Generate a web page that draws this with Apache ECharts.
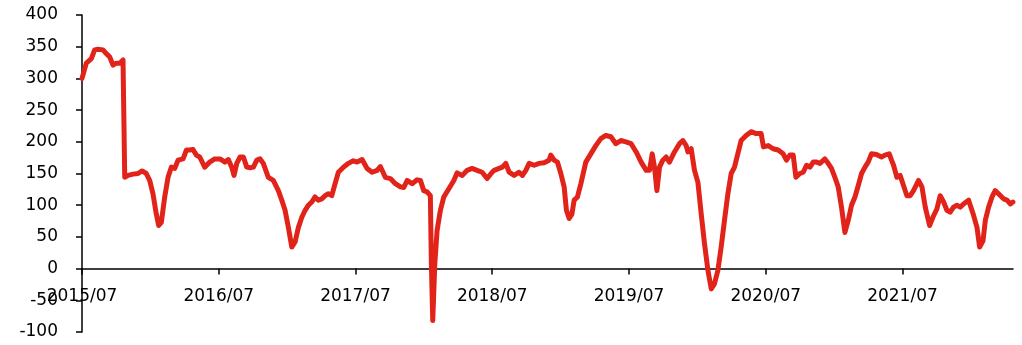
<!DOCTYPE html>
<html>
<head>
<meta charset="utf-8">
<script src="https://cdn.jsdelivr.net/npm/echarts@6/dist/echarts.min.js"></script>
<style>
  html, body { margin: 0; padding: 0; background: #fff; }
  #chart { width: 1022px; height: 345px; }
</style>
</head>
<body>
<div id="chart"></div>
<script>
// Months elapsed since 2015/07 for each observation
const months = [
  0.00, 0.38, 0.82, 1.11, 1.40, 1.84, 2.13, 2.43, 2.72, 3.01, 3.31, 3.60, 3.75, 4.04, 4.48, 4.92,
  5.27, 5.64, 5.94, 6.23, 6.52, 6.73, 6.96, 7.26, 7.55, 7.84, 8.14, 8.43, 8.87, 9.16, 9.45, 9.74,
  10.03, 10.33, 10.77, 11.21, 11.65, 12.11, 12.55, 12.84, 13.14, 13.34, 13.58, 13.87, 14.16, 14.46,
  14.75, 15.04, 15.34, 15.63, 15.91, 16.35, 16.79, 17.23, 17.53, 17.82, 18.11, 18.41, 18.70, 18.99,
  19.29, 19.58, 19.87, 20.16, 20.45, 20.74, 21.04, 21.33, 21.62, 21.92, 22.21, 22.50, 22.94, 23.38,
  23.81, 24.14, 24.58, 25.02, 25.46, 25.90, 26.18, 26.62, 27.06, 27.50, 27.94, 28.24, 28.53, 28.97,
  29.41, 29.70, 29.99, 30.28, 30.57, 30.66, 30.78, 30.96, 31.16, 31.45, 31.75, 32.19, 32.63, 32.92,
  33.36, 33.80, 34.23, 34.67, 35.11, 35.55, 35.99, 36.17, 36.60, 36.89, 37.19, 37.48, 37.92, 38.36,
  38.65, 38.95, 39.24, 39.68, 40.12, 40.55, 40.99, 41.14, 41.43, 41.72, 42.02, 42.31, 42.51, 42.75,
  42.99, 43.19, 43.48, 43.78, 44.21, 44.65, 45.09, 45.53, 45.97, 46.41, 46.85, 47.29, 47.73, 48.19,
  48.63, 49.07, 49.51, 49.80, 50.04, 50.24, 50.45, 50.68, 50.97, 51.26, 51.55, 51.99, 52.43, 52.73,
  53.02, 53.17, 53.46, 53.75, 54.05, 54.34, 54.63, 54.93, 55.22, 55.50, 55.80, 56.09, 56.38, 56.68,
  56.97, 57.26, 57.55, 57.84, 58.28, 58.72, 59.16, 59.60, 59.80, 60.22, 60.65, 61.09, 61.53, 61.82,
  62.12, 62.41, 62.65, 63.00, 63.29, 63.58, 63.88, 64.17, 64.46, 64.76, 65.19, 65.48, 65.77, 66.07,
  66.36, 66.65, 66.95, 67.24, 67.53, 67.83, 68.12, 68.41, 68.71, 68.99, 69.28, 69.72, 70.16, 70.46,
  70.84, 71.04, 71.22, 71.51, 71.80, 72.09, 72.39, 72.68, 72.97, 73.41, 73.71, 74.00, 74.38, 74.67,
  75.02, 75.31, 75.61, 75.90, 76.19, 76.48, 76.78, 77.07, 77.36, 77.80, 77.95, 78.24, 78.54, 78.77,
  79.07, 79.27, 79.56, 79.86, 80.14, 80.43, 80.87, 81.17, 81.46, 81.69
];

// Index level at each observation
const values = [
  300, 324, 331, 345, 346, 345, 339, 334, 321, 324, 324, 329, 144, 147, 149, 150,
  154, 150, 139, 118, 86, 68, 73, 113, 144, 160, 158, 171, 173, 187, 187, 188,
  179, 176, 160, 168, 173, 173, 168, 172, 160, 147, 166, 176, 176, 160,
  159, 160, 171, 173, 166, 144, 139, 123, 108, 92, 65, 34, 42, 65,
  81, 92, 100, 105, 113, 108, 110, 115, 118, 115, 134, 152, 160, 166,
  170, 168, 172, 158, 152, 155, 161, 144, 142, 134, 129, 128, 139, 134,
  140, 139, 123, 121, 115, 7, -82, 7, 60, 92, 113, 126, 139, 151,
  147, 155, 158, 155, 152, 142, 152, 155, 158, 160, 166, 152, 147, 152,
  147, 155, 166, 163, 166, 167, 171, 179, 171, 168, 150, 129, 92, 79,
  86, 108, 113, 134, 168, 181, 194, 205, 210, 208, 197, 202, 200, 197,
  184, 168, 155, 155, 181, 160, 123, 160, 171, 176, 168, 184, 197, 202,
  194, 184, 189, 155, 136, 86, 39, -3, -32, -24, -3, 34, 76, 118,
  150, 160, 181, 202, 210, 216, 213, 213, 192, 194, 189, 187, 181, 171,
  179, 179, 144, 150, 152, 163, 160, 168, 168, 166, 173, 166, 158, 144,
  129, 97, 57, 76, 100, 113, 131, 150, 160, 168, 181, 180, 176, 179,
  181, 171, 163, 144, 147, 131, 115, 115, 123, 139, 129, 97, 68, 81,
  94, 115, 105, 92, 89, 97, 100, 97, 102, 108, 100, 84, 65, 34,
  44, 76, 97, 113, 123, 118, 110, 108, 102, 105
];

// Labelled x positions (each July) and their text
const xTickMonths = [0, 12, 24, 36, 48, 60, 72];
const xTickLabels = ['2015/07', '2016/07', '2017/07', '2018/07', '2019/07', '2020/07', '2021/07'];

const seriesData = months.map((m, i) => [m, values[i]]);

const chart = echarts.init(document.getElementById('chart'), null, { renderer: 'canvas' });

const textStyle = { color: '#000', fontFamily: 'DejaVu Sans', fontSize: 17 };

chart.setOption({
  animation: false,
  backgroundColor: '#fff',
  grid: { left: 82, right: 9, top: 15, bottom: 13, containLabel: false, outerBoundsMode: 'none' },
  xAxis: {
    type: 'value',
    min: 0,
    max: 81.7,
    splitLine: { show: false },
    axisLine: { show: true, onZero: true, lineStyle: { color: '#000', width: 1.5 } },
    axisTick: {
      show: true,
      length: 6,
      customValues: xTickMonths,
      lineStyle: { color: '#000', width: 1.5 }
    },
    // labels sit just under the zero line, above the negative range
    axisLabel: Object.assign({
      customValues: xTickMonths,
      margin: -44,
      formatter: v => xTickLabels[xTickMonths.indexOf(Math.round(v))] || ''
    }, textStyle)
  },
  yAxis: {
    type: 'value',
    min: -100,
    max: 400,
    interval: 50,
    splitLine: { show: false },
    axisLine: { show: true, lineStyle: { color: '#000', width: 1.5 } },
    axisTick: { show: true, length: 6, lineStyle: { color: '#000', width: 1.5 } },
    axisLabel: Object.assign({ margin: 24 }, textStyle)
  },
  series: [{
    type: 'line',
    data: seriesData,
    showSymbol: false,
    symbol: 'none',
    smooth: false,
    lineStyle: { color: '#E2231A', width: 5, join: 'round', cap: 'round' },
    z: 1
  }]
});
</script>
</body>
</html>
